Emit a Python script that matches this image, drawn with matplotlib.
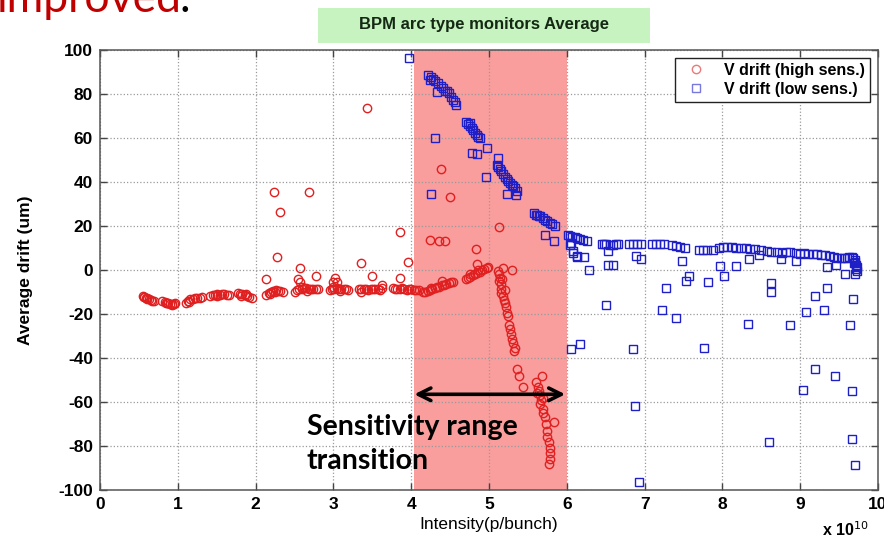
import matplotlib
matplotlib.use("Agg")
import matplotlib.pyplot as plt
from matplotlib.patches import Rectangle

# ---- data ----
# V drift, high sensitivity (red circles)
hs_x = [
    0.55, 0.56, 0.57, 0.59, 0.60, 0.61, 0.63, 0.65, 0.67, 0.70,
    0.80, 0.83, 0.85, 0.86, 0.88, 0.90, 0.92, 0.93, 0.95, 0.97,
    1.10, 1.13, 1.14, 1.16, 1.19, 1.22, 1.25, 1.28, 1.31,
    1.42, 1.45, 1.48, 1.50, 1.51, 1.54, 1.57, 1.60, 1.63, 1.66,
    1.77, 1.80, 1.81, 1.83, 1.86, 1.88, 1.89, 1.92, 1.95,
    2.14, 2.17, 2.19, 2.20, 2.23, 2.25, 2.26, 2.29, 2.32, 2.35,
    2.14, 2.24, 2.32, 2.28,
    2.50, 2.53, 2.56, 2.59, 2.60, 2.62, 2.65, 2.66, 2.68, 2.71, 2.74, 2.77, 2.80,
    2.57, 2.55, 2.57, 2.78, 2.68,
    2.95, 2.98, 3.00, 3.01, 3.04, 3.07, 3.08, 3.10, 3.13, 3.16, 3.19,
    3.02, 3.04, 3.00,
    3.33, 3.35, 3.36, 3.39, 3.42, 3.45, 3.48, 3.51, 3.54, 3.57, 3.60, 3.63,
    3.36, 3.49, 3.63, 3.43,
    3.76, 3.79, 3.82, 3.85, 3.88, 3.91, 3.94, 3.97, 4.00, 4.03, 4.06, 4.10,
    3.86, 3.96, 3.86,
    4.15, 4.18, 4.21, 4.24, 4.27, 4.30, 4.33, 4.36, 4.39, 4.42, 4.45, 4.48, 4.51, 4.54, 4.25, 4.40,
    4.38, 4.50, 4.24, 4.36, 4.43,
    4.70, 4.73, 4.75, 4.76, 4.79, 4.82, 4.85, 4.86, 4.88, 4.91, 4.94, 4.97, 4.99,
    4.84, 4.83,
    5.12, 5.13, 5.14, 5.13, 5.15, 5.16, 5.15, 5.17, 5.18, 5.19, 5.20, 5.21, 5.22, 5.23,
    5.24, 5.26, 5.27, 5.28, 5.30, 5.31, 5.33, 5.32,
    5.13, 5.18, 5.30, 5.36, 5.38, 5.44,
    5.61, 5.62, 5.63, 5.64, 5.65, 5.66, 5.67, 5.68, 5.69, 5.70, 5.70, 5.72, 5.73, 5.74,
    5.75, 5.77, 5.78, 5.79, 5.78, 5.77, 5.83,
]
hs_y = [
    -12.0, -12.1, -12.3, -12.8, -12.5, -13.0, -13.4, -13.8, -14.0, -14.3,
    -14.0, -14.5, -14.8, -15.0, -15.2, -15.4, -15.5, -15.8, -15.3, -15.0,
    -14.8, -14.0, -14.5, -13.4, -13.0, -12.7, -12.5, -12.6, -12.3,
    -12.0, -11.5, -11.3, -12.0, -11.0, -11.2, -11.0, -10.8, -11.2, -11.5,
    -10.5, -10.8, -11.8, -11.0, -11.5, -10.8, -12.0, -12.2, -12.5,
    -11.5, -10.5, -11.0, -9.8, -9.5, -10.2, -9.2, -9.5, -9.4, -9.8,
    -4.3, 35.3, 26.2, 6.0,
    -10.0, -9.2, -8.8, -8.5, -7.5, -8.4, -8.3, -9.5, -8.5, -8.6, -8.8, -8.5, -8.8,
    1.0, -4.0, -5.5, -2.8, 35.6,
    -9.0, -8.7, -7.7, -8.5, -8.4, -8.6, -9.6, -8.5, -8.7, -8.8, -9.0,
    -3.8, -5.3, -5.5,
    -8.8, -10.0, -8.5, -8.7, -8.6, -8.9, -8.7, -8.5, -8.8, -8.6, -8.9, -8.4,
    3.3, -2.6, -6.6, 73.7,
    -8.3, -8.8, -8.5, -8.6, -8.4, -8.7, -8.9, -8.6, -8.8, -9.0, -8.9, -9.2,
    17.1, 3.5, -3.5,
    -10.0, -10.2, -9.6, -9.2, -8.8, -8.4, -7.9, -7.5, -7.0, -6.6, -6.2, -5.8, -5.5, -5.3, -8.0, -5.0,
    46.0, 33.2, 13.5, 13.0, 13.0,
    -4.2, -3.5, -2.0, -3.0, -2.4, -1.8, -1.2, 0.0, -0.8, -0.2, 0.3, 0.8, 1.2,
    2.8, 9.6,
    -0.5, -2.0, -3.5, -5.0, -6.5, -8.5, -10.5, -4.0, -12.0, -13.5, -9.0, -15.0, -17.0, -19.5,
    -21.0, -25.0, -27.0, -29.0, -31.5, -33.0, -35.5, -37.0,
    19.4, 0.7, -0.2, -45.0, -48.0, -53.0,
    -51.0, -56.0, -53.0, -55.0, -57.0, -61.0, -59.0, -48.0, -63.0, -65.0, -58.0, -67.0, -70.0, -73.0,
    -76.0, -78.0, -81.0, -83.0, -86.0, -88.0, -69.0,
]

# V drift, low sensitivity (blue squares)
ls_x = [
    3.97,
    4.22, 4.24, 4.25, 4.28, 4.31, 4.35, 4.38, 4.41, 4.44, 4.46, 4.48, 4.51, 4.54, 4.56, 4.58,
    4.33, 4.30, 4.25,
    4.71, 4.73, 4.75, 4.76, 4.78, 4.80, 4.82, 4.84, 4.86, 4.88,
    4.98, 4.78, 4.85, 4.96,
    5.12, 5.10, 5.12, 5.14, 5.16, 5.18, 5.21, 5.23, 5.25, 5.27, 5.29, 5.31, 5.33, 5.36,
    5.23, 5.35,
    5.58, 5.60, 5.62, 5.64, 5.66, 5.69, 5.72, 5.75, 5.78, 5.81, 5.85,
    5.72, 5.83,
    6.01, 6.04, 6.07, 6.10, 6.13, 6.17, 6.21, 6.26, 6.45, 6.48, 6.51, 6.55, 6.60, 6.63, 6.66,
    6.80, 6.85, 6.90, 6.96, 7.10, 7.15, 7.20, 7.25, 7.35, 7.41, 7.45, 7.52, 7.70, 7.75, 7.80,
    7.88, 7.95, 8.01, 8.06, 8.12, 8.18, 8.24, 8.30, 8.35, 8.42, 8.50, 8.57, 8.63, 8.70, 8.76,
    8.82, 8.87, 8.95, 9.00, 9.05, 9.10, 9.17, 9.22, 9.27, 9.32, 9.38, 9.43, 9.47, 9.52, 9.56,
    9.60, 9.63, 9.66, 9.68, 9.70, 9.71, 9.72, 9.73, 9.72, 9.73, 9.69,
    6.04, 6.08, 6.13, 6.06, 6.08, 6.13, 6.22, 6.28, 6.53, 6.60, 6.53, 6.50, 6.89, 6.95,
    7.27, 7.23, 7.41, 7.48, 7.53, 7.57, 7.82, 7.97, 8.02, 8.18, 8.34, 8.47, 8.33, 8.62,
    8.63, 8.75, 8.87, 8.95, 9.07, 9.19, 9.30, 9.34, 9.34, 9.46, 9.58, 9.64, 9.68, 9.70,
    6.05, 6.17, 6.85, 7.76,
    9.19, 9.45, 9.04, 9.67, 6.88, 9.67, 8.60, 9.70, 6.93,
]
ls_y = [
    96.2,
    88.5, 86.5, 87.8, 87.0, 86.0, 85.0, 83.8, 82.6, 81.5, 81.5, 80.4, 78.8, 77.3, 76.5, 75.0,
    81.0, 60.0, 34.7,
    67.5, 66.5, 66.8, 65.5, 64.5, 63.7, 62.5, 61.5, 60.5, 60.0,
    55.4, 53.4, 52.8, 42.5,
    50.9, 47.8, 47.0, 45.8, 44.8, 43.6, 42.5, 41.4, 40.3, 39.5, 38.8, 38.0, 37.3, 35.7,
    34.7, 34.0,
    25.8, 25.2, 24.8, 24.5, 24.4, 23.6, 22.9, 22.2, 21.4, 20.7, 20.0,
    16.1, 13.1,
    16.1, 15.5, 15.0, 14.8, 14.6, 14.0, 13.5, 13.1, 11.8, 11.6, 11.6, 11.4, 11.5, 11.6, 11.6,
    11.6, 11.6, 12.0, 12.0, 11.6, 11.6, 11.6, 11.6, 11.4, 11.1, 10.5, 10.0, 9.2, 9.0, 9.1,
    9.3, 10.2, 10.5, 10.6, 10.3, 10.0, 10.1, 9.9, 9.6, 9.4, 9.0, 8.6, 8.0, 8.2, 7.8,
    8.1, 8.0, 7.6, 7.5, 7.6, 7.4, 7.5, 7.2, 6.9, 6.6, 6.2, 5.8, 5.5, 5.5, 5.6,
    5.5, 5.9, 6.0, 5.5, 4.5, 3.5, 2.5, 1.5, 0.5, -0.5, 3.0,
    11.4, 8.5, 6.2, 12.3, 7.8, 6.0, 6.0, 0.2, 2.5, 2.5, 8.5, -16.0, 6.3, 5.0,
    -8.0, -18.2, -21.7, 4.3, -4.8, -2.8, -5.5, 1.7, -2.5, 1.7, 5.0, 6.6, -24.7, -5.8,
    -9.9, 5.2, -25.2, 4.0, -19.1, -11.6, -18.2, -8.1, 1.4, 2.5, -1.6, -25.2, -13.1, -1.6,
    -36.0, -33.8, -36.0, -35.3,
    -44.8, -48.4, -54.5, -55.0, -61.7, -76.6, -78.4, -88.7, -96.5,
]

x_ticks = list(range(0, 11))
y_ticks = list(range(-100, 101, 20))
shade_span = (4.04, 6.0)
arrow_span = (4.04, 5.98)
arrow_y = -56.5

plt.rcParams["font.family"] = ["Liberation Sans", "DejaVu Sans"]
plt.rcParams["axes.unicode_minus"] = False

fig = plt.figure(figsize=(8.84, 5.43), dpi=100)
fig.patch.set_facecolor("white")
ax = fig.add_axes([100 / 884, 53 / 543, 778 / 884, 440 / 543])

# sensitivity-transition band
ax.axvspan(*shade_span, color="#fa9d9d", lw=0, zorder=0.5)

ax.plot(hs_x, hs_y, "o", ls="none", ms=6, mfc="none", mec="#e02020", mew=1.0,
        label="V drift (high sens.)", zorder=3)
ax.plot(ls_x, ls_y, "s", ls="none", ms=5.6, mfc="none", mec="#1f1fc8", mew=1.0,
        label="V drift (low sens.)", zorder=3)

ax.set_xlim(0, 10)
ax.set_ylim(-100, 100)
ax.set_xticks(x_ticks)
ax.set_yticks(y_ticks)
ax.tick_params(direction="in", top=True, right=True, length=5, width=1,
               color="#444444", labelsize=12.5, pad=5)
for lbl in ax.get_xticklabels() + ax.get_yticklabels():
    lbl.set_fontweight("bold")
ax.grid(True, ls=":", color="#9a9a9a", lw=0.9)
for s in ax.spines.values():
    s.set_color("#555555")
    s.set_linewidth(1.1)

ax.set_xlabel("Intensity(p/bunch)", fontsize=12.5, labelpad=4)
ax.set_ylabel("Average drift (um)", fontsize=12.5, fontweight="bold", labelpad=18)

leg = ax.legend(loc="upper right", fancybox=False, framealpha=1, edgecolor="#222222",
                prop={"weight": "bold", "size": 11.5}, borderaxespad=0.5,
                handletextpad=0.8, borderpad=0.3, labelspacing=0.25, handlelength=2.0)
leg.get_frame().set_linewidth(1.0)
for h in leg.legend_handles:
    h.set_alpha(0.6)

# arrow + annotation text
ax.annotate("", xy=(arrow_span[1], arrow_y), xytext=(arrow_span[0], arrow_y),
            arrowprops=dict(arrowstyle="<->,head_length=0.9,head_width=0.45",
                            color="black", lw=2.6, shrinkA=0, shrinkB=0), zorder=4)
ax.text(2.66, -79, "Sensitivity range\ntransition", fontsize=20.5, fontweight="bold",
        family=["Lato", "DejaVu Sans"], ha="left", va="center", linespacing=1.4, zorder=4)

# title box
fig.patches.append(Rectangle((318 / 884, 1 - 43 / 543), 332 / 884, 35 / 543,
                             transform=fig.transFigure, facecolor="#c6f3c0",
                             edgecolor="none", zorder=0))
fig.text(484 / 884, 1 - 25 / 543, "BPM arc type monitors Average", ha="center",
         va="center", fontsize=12, fontweight="bold", color="#142814")

# exponent label
fig.text(822 / 884, 1 - 536 / 543, r"x 10$^{10}$", ha="left", va="baseline",
         fontsize=11.5, fontweight="bold")

# slide text cut off at the top
fig.text(-0.004, 1 - 12 / 543, "improved", ha="left", va="baseline", fontsize=32,
         color="#c00000", family=["Lato", "DejaVu Sans"])
fig.text(180 / 884, 1 - 12 / 543, ".", ha="left", va="baseline", fontsize=32,
         color="black", family=["Lato", "DejaVu Sans"])

fig.savefig("out.png", dpi=100)
